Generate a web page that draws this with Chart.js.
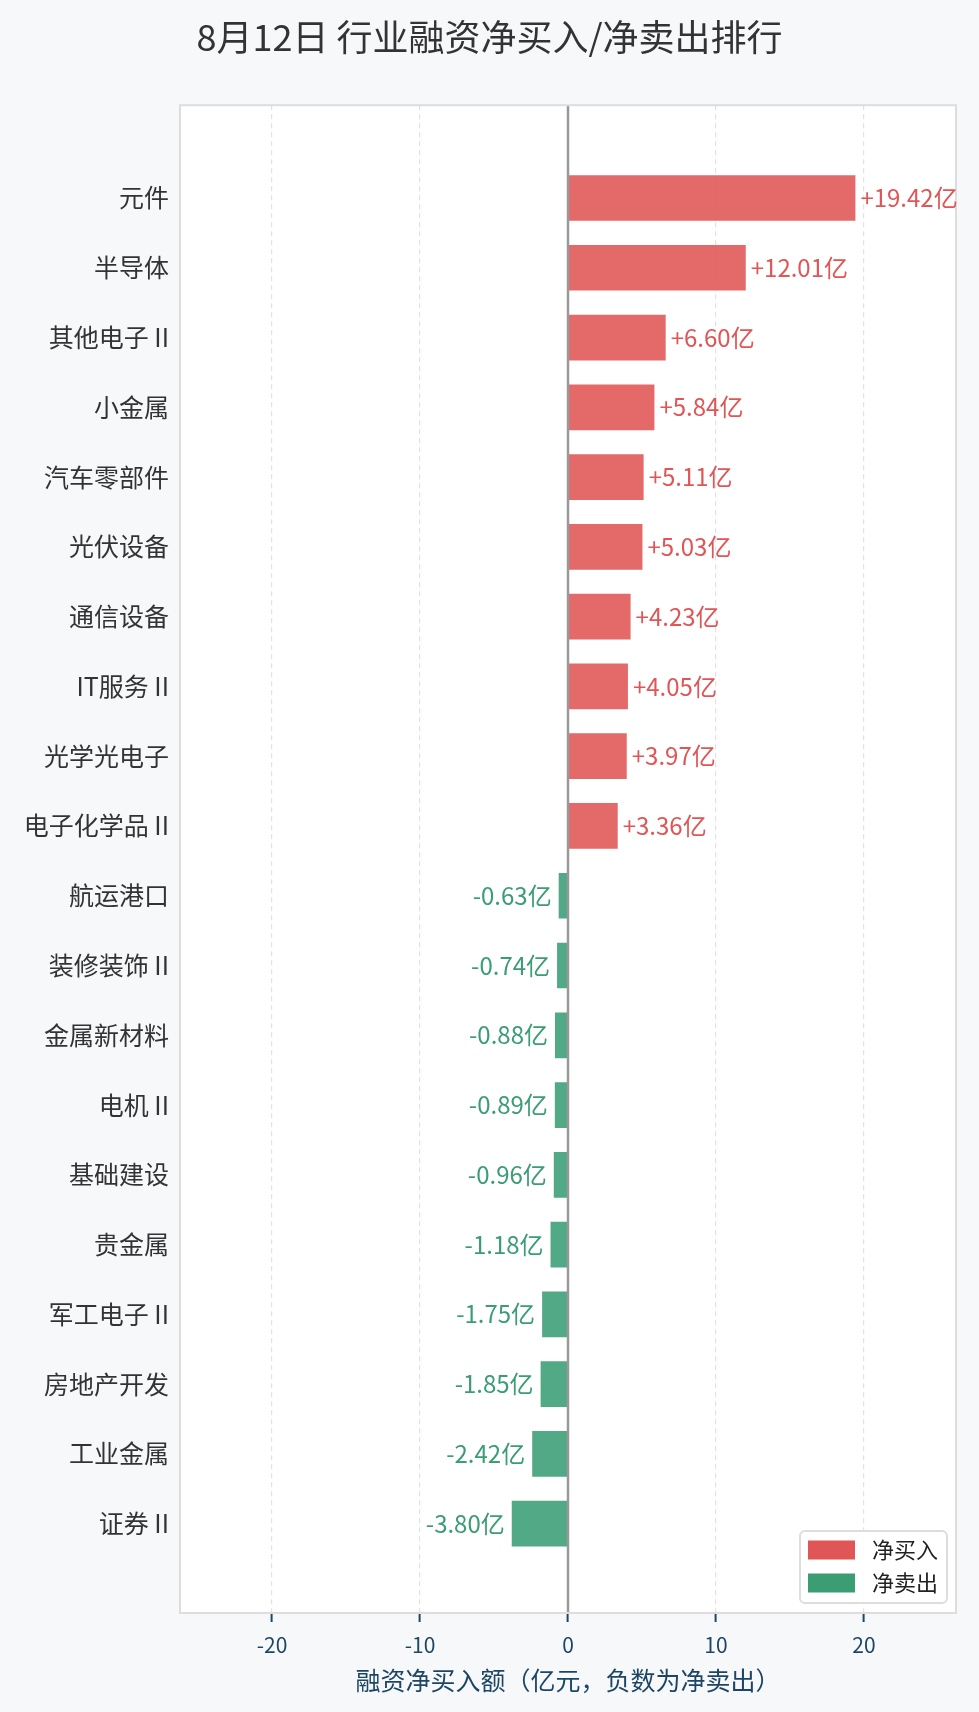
<!DOCTYPE html>
<html lang="zh-CN">
<head>
  <meta charset="UTF-8" />
  <title>行业融资净买入/净卖出排行</title>
  <script src="https://cdn.jsdelivr.net/npm/chart.js"></script>
  <style>
    html, body {
      margin: 0;
      padding: 0;
      background: #f7f8fa;
    }
    .wrap {
      width: 979px;
      height: 1712px;
      position: relative;
    }
  </style>
</head>
<body>
  <div class="wrap">
    <canvas id="chart"></canvas>
  </div>

  <script>
    // 行业与融资净买入额（亿元）
    const categories = ['元件', '半导体', '其他电子 II', '小金属', '汽车零部件', '光伏设备', '通信设备', 'IT服务 II', '光学光电子', '电子化学品 II',
      '航运港口', '装修装饰 II', '金属新材料', '电机 II', '基础建设', '贵金属', '军工电子 II', '房地产开发', '工业金属', '证券 II'];
    const netValues = [19.42, 12.01, 6.60, 5.84, 5.11, 5.03, 4.23, 4.05, 3.97, 3.36,
      -0.63, -0.74, -0.88, -0.89, -0.96, -1.18, -1.75, -1.85, -2.42, -3.80];
    const xTicks = [-20, -10, 0, 10, 20];
    const seriesNames = ['净买入', '净卖出'];

    const FONT = '"Noto Sans CJK SC", "Noto Sans", sans-serif';
    const RED = '#e05555';
    const GREEN = '#3a9d74';
    const RED_BAR = 'rgba(224, 85, 85, 0.88)';
    const GREEN_BAR = 'rgba(58, 157, 116, 0.88)';
    const AXIS_BLUE = '#1d4666';

    const buyPoints = [];
    const sellPoints = [];
    netValues.forEach((v, i) => {
      if (v >= 0) buyPoints.push({ x: v, y: i });
      else sellPoints.push({ x: v, y: i });
    });

    const xLimit = Math.max(...netValues.map(Math.abs)) * 1.35;

    // 白底 + 边框 + 零线
    const framePlugin = {
      id: 'frame',
      beforeDraw(chart) {
        const { ctx, chartArea: a } = chart;
        ctx.save();
        ctx.fillStyle = '#ffffff';
        ctx.fillRect(a.left, a.top, a.right - a.left, a.bottom - a.top);
        ctx.restore();
      },
      afterDatasetsDraw(chart) {
        const { ctx, chartArea: a } = chart;
        const x0 = chart.scales.x.getPixelForValue(0);
        ctx.save();
        ctx.strokeStyle = '#999999';
        ctx.lineWidth = 2.5;
        ctx.beginPath();
        ctx.moveTo(x0, a.top);
        ctx.lineTo(x0, a.bottom);
        ctx.stroke();
        ctx.strokeStyle = '#dddddd';
        ctx.lineWidth = 2;
        ctx.strokeRect(a.left, a.top, a.right - a.left, a.bottom - a.top);
        ctx.restore();
      }
    };

    // 数值标签
    const valueLabels = {
      id: 'valueLabels',
      afterDatasetsDraw(chart) {
        const { ctx } = chart;
        ctx.save();
        ctx.font = '24px ' + FONT;
        ctx.textBaseline = 'middle';
        chart.data.datasets.forEach((ds, di) => {
          const meta = chart.getDatasetMeta(di);
          meta.data.forEach((bar, j) => {
            const v = ds.data[j].x;
            if (v >= 0) {
              ctx.fillStyle = RED;
              ctx.textAlign = 'left';
              ctx.fillText('+' + v.toFixed(2) + '亿', bar.x + 5, bar.y);
            } else {
              ctx.fillStyle = GREEN;
              ctx.textAlign = 'right';
              ctx.fillText(v.toFixed(2) + '亿', bar.x - 7, bar.y);
            }
          });
        });
        ctx.restore();
      }
    };

    // 图例（放在绘图区右下角）
    const innerLegend = {
      id: 'innerLegend',
      afterDraw(chart) {
        const { ctx, chartArea: a } = chart;
        const w = 147, h = 72;
        const left = a.right - 9 - w;
        const top = a.bottom - 10 - h;
        ctx.save();
        ctx.fillStyle = 'rgba(255,255,255,0.9)';
        ctx.strokeStyle = '#dddddd';
        ctx.lineWidth = 2;
        ctx.beginPath();
        ctx.roundRect(left, top, w, h, 5);
        ctx.fill();
        ctx.stroke();
        ctx.font = '22px ' + FONT;
        ctx.textBaseline = 'middle';
        ctx.textAlign = 'left';
        const colors = [RED, GREEN];
        seriesNames.forEach((name, i) => {
          const cy = top + 19 + i * 33;
          ctx.fillStyle = colors[i];
          ctx.fillRect(left + 8, cy - 9.5, 47, 19);
          ctx.fillStyle = '#222222';
          ctx.fillText(name, left + 72, cy);
        });
        ctx.restore();
      }
    };

    new Chart(document.getElementById('chart'), {
      type: 'bar',
      data: {
        datasets: [
          { label: seriesNames[0], data: buyPoints, backgroundColor: RED_BAR },
          { label: seriesNames[1], data: sellPoints, backgroundColor: GREEN_BAR }
        ]
      },
      options: {
        indexAxis: 'y',
        responsive: true,
        maintainAspectRatio: false,
        animation: false,
        grouped: false,
        barPercentage: 0.655,
        categoryPercentage: 1,
        layout: { padding: { left: 23, right: 23, top: 0, bottom: 0 } },
        plugins: {
          legend: { display: false },
          tooltip: { enabled: false },
          title: {
            display: true,
            text: '8月12日 行业融资净买入/净卖出排行',
            color: '#333333',
            font: { family: FONT, size: 36, weight: 'normal' },
            padding: { top: 16, bottom: 46 }
          }
        },
        scales: {
          x: {
            type: 'linear',
            min: -xLimit,
            max: xLimit,
            afterBuildTicks(scale) {
              scale.ticks = xTicks.map(v => ({ value: v }));
            },
            afterFit(scale) { scale.height = 99; },
            border: { display: false, dash: [5, 4] },
            grid: {
              color: ctx => (ctx.tick && ctx.tick.value === 0) ? 'rgba(0,0,0,0)' : '#e2e2e2',
              lineWidth: 1.2,
              tickColor: AXIS_BLUE,
              tickLength: 9,
              tickWidth: 2,
              tickBorderDash: []
            },
            ticks: {
              color: AXIS_BLUE,
              padding: 10,
              font: { family: FONT, size: 21 }
            },
            title: {
              display: true,
              text: '融资净买入额（亿元，负数为净卖出）',
              color: AXIS_BLUE,
              font: { family: FONT, size: 25 },
              padding: { top: 0, bottom: 17 }
            }
          },
          y: {
            type: 'linear',
            reverse: true,
            offset: false,
            min: -1.33,
            max: categories.length - 1 + 1.28,
            afterBuildTicks(scale) {
              scale.ticks = categories.map((c, i) => ({ value: i }));
            },
            afterFit(scale) { scale.width = 157; },
            border: { display: false },
            grid: { display: false, drawTicks: false, offset: false },
            ticks: {
              color: '#333333',
              padding: 11,
              font: { family: FONT, size: 25 },
              callback: v => categories[v]
            }
          }
        }
      },
      plugins: [framePlugin, valueLabels, innerLegend]
    });
  </script>
</body>
</html>
